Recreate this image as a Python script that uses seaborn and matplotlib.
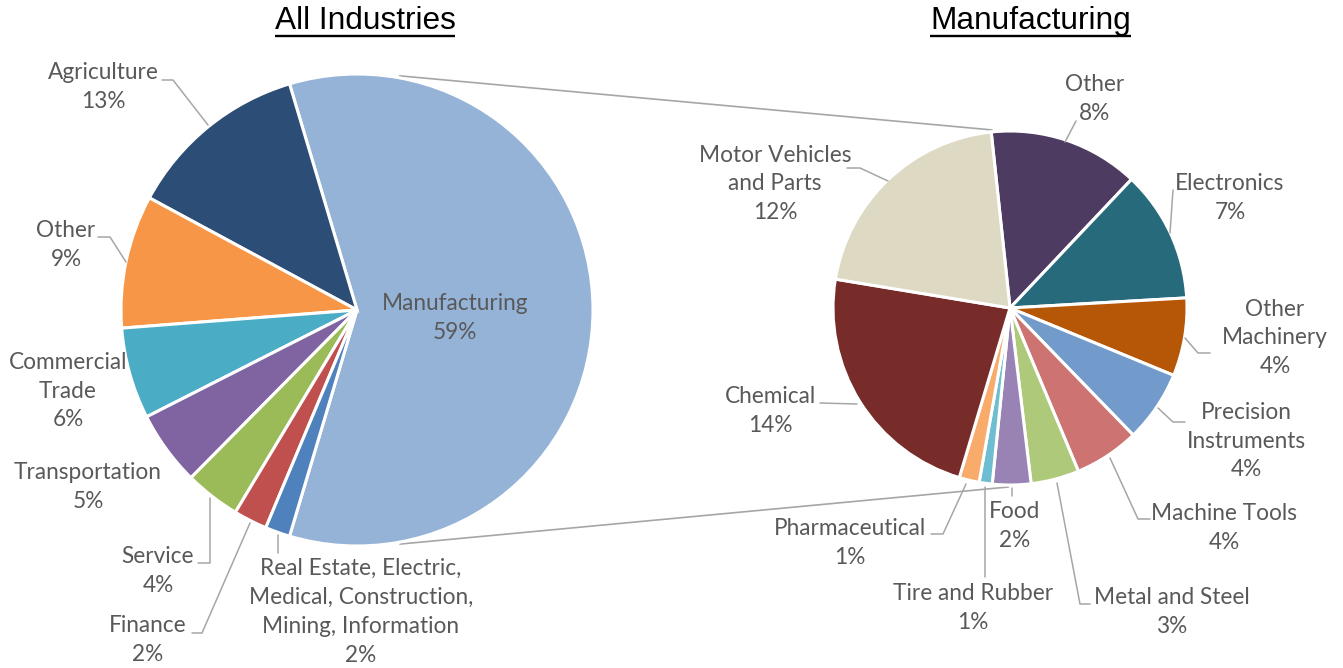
import numpy as np
import matplotlib
matplotlib.use("Agg")
import matplotlib.pyplot as plt
import seaborn as sns

# ---------------- data ----------------
all_labels = ["Manufacturing", "Agriculture", "Other", "Commercial\nTrade",
              "Transportation", "Service", "Finance",
              "Real Estate, Electric,\nMedical, Construction,\nMining, Information"]
all_values = [59.2, 12.5, 9.1, 6.25, 5.1, 3.8, 2.3, 1.7]
all_pct = ["59%", "13%", "9%", "6%", "5%", "4%", "2%", "2%"]
all_colors = ["#95B3D7", "#2C4D75", "#F79646", "#4BACC6", "#8064A2",
              "#9BBB59", "#C0504D", "#4F81BD"]

mfg_labels = ["Other", "Electronics", "Other\nMachinery", "Precision\nInstruments",
              "Machine Tools", "Metal and Steel", "Food", "Tire and Rubber",
              "Pharmaceutical", "Chemical", "Motor Vehicles\nand Parts"]
mfg_values = [8.1, 7.1, 4.2, 3.85, 3.5, 2.6, 2.07, 0.7, 1.08, 13.55, 12.2]
mfg_pct = ["8%", "7%", "4%", "4%", "4%", "3%", "2%", "1%", "1%", "14%", "12%"]
mfg_colors = ["#4D3B62", "#276A7C", "#B65708", "#729ACA", "#CD7371",
              "#AFC97A", "#9983B5", "#6FBDD1", "#F9AB6B", "#772C2A", "#DDD9C3"]

# ---------------- layout (pixel coordinates, y downward) ----------------
W, H = 1343, 668
def Y(py):
    return H - py

left_c, left_r = (357, 310), 236
right_c, right_r = (1010, 308), 177

left_text_pos = [(455, 318), (103, 87), (66, 245), (68, 391), (88, 487),
                 (158, 571), (148, 640), (361, 612)]
left_leaders = [None, [(162, 80), (173, 80), (208, 125)],
                [(98, 237), (110, 237), (126, 262)], None, None,
                [(198, 563), (210, 563), (210, 498)],
                [(192, 633), (202, 633), (250, 523)],
                [(278, 535), (278, 553)]]

right_text_pos = [(1095, 99), (1230, 198), (1275, 338), (1246, 441), (1224, 528),
                  (1172, 612), (1015, 526), (973, 608), (850, 543), (770, 411),
                  (775, 184)]
right_leaders = [[(1065, 142), (1076, 121)], [(1170, 233), (1173, 190)],
                 [(1185, 338), (1198, 353), (1210, 353)],
                 [(1158, 408), (1173, 422), (1185, 422)],
                 [(1110, 458), (1138, 519), (1150, 519)],
                 [(1057, 483), (1080, 604), (1090, 604)],
                 [(1012, 488), (1012, 496)], [(985, 487), (985, 577)],
                 [(966, 484), (943, 534), (931, 534)],
                 [(820, 403), (857, 404)],
                 [(847, 168), (860, 168), (888, 181)]]

# ---------------- style ----------------
sns.set_theme(style="white")
plt.rcParams["font.family"] = ["Lato", "DejaVu Sans"]
TXT = "#595959"
LEAD = "#A6A6A6"
FS = 16.3

fig = plt.figure(figsize=(W / 100, H / 100), dpi=100)
ax = fig.add_axes([0, 0, 1, 1])

wp = dict(edgecolor="white", linewidth=2.2)
start_left = -all_values[0] / sum(all_values) * 360 / 2
ax.pie(all_values, colors=sns.color_palette(all_colors), startangle=start_left,
       counterclock=True, center=(left_c[0], Y(left_c[1])), radius=left_r,
       wedgeprops=wp, frame=True)
ax.pie(mfg_values, colors=sns.color_palette(mfg_colors), startangle=96.1,
       counterclock=False, center=(right_c[0], Y(right_c[1])), radius=right_r,
       wedgeprops=wp, frame=True)

ax.set_xlim(0, W)
ax.set_ylim(0, H)
ax.set_aspect("equal")
ax.axis("off")

# connector lines between pies
def on_circle(c, r, ang):
    a = np.deg2rad(ang)
    return c[0] + r * np.cos(a), Y(c[1]) + r * np.sin(a)

for la, ra in [(79.7, 95.8), (-79.6, -90.5)]:
    p1 = on_circle(left_c, left_r + 2, la)
    p2 = on_circle(right_c, right_r + 2, ra)
    ax.plot([p1[0], p2[0]], [p1[1], p2[1]], color=LEAD, lw=1.2, zorder=0)

def draw_labels(labels, pcts, positions, leaders):
    for lab, pct, pos, ld in zip(labels, pcts, positions, leaders):
        ax.text(pos[0], Y(pos[1]), f"{lab}\n{pct}", ha="center", va="center",
                multialignment="center", fontsize=FS, color=TXT, linespacing=1.47)
        if ld:
            xs = [p[0] for p in ld]
            ys = [Y(p[1]) for p in ld]
            ax.plot(xs, ys, color=LEAD, lw=1.1, zorder=3)

draw_labels(all_labels, all_pct, left_text_pos, left_leaders)
draw_labels(mfg_labels, mfg_pct, right_text_pos, right_leaders)

# titles with underline
renderer = fig.canvas.get_renderer()
for title, cx in [("All Industries", 365), ("Manufacturing", 1030.5)]:
    t = ax.text(cx, Y(21), title, ha="center", va="center", fontsize=22.8,
                color="black", family=["Liberation Sans", "DejaVu Sans"])
    bb = t.get_window_extent(renderer=renderer)
    x0, _ = ax.transData.inverted().transform((bb.x0, bb.y0))
    x1, _ = ax.transData.inverted().transform((bb.x1, bb.y0))
    ax.plot([x0, x1], [Y(36), Y(36)], color="black", lw=1.7,
            solid_capstyle="butt")
ax.set_xlim(0, W)
ax.set_ylim(0, H)

fig.savefig("out.png", dpi=100, facecolor="white")
